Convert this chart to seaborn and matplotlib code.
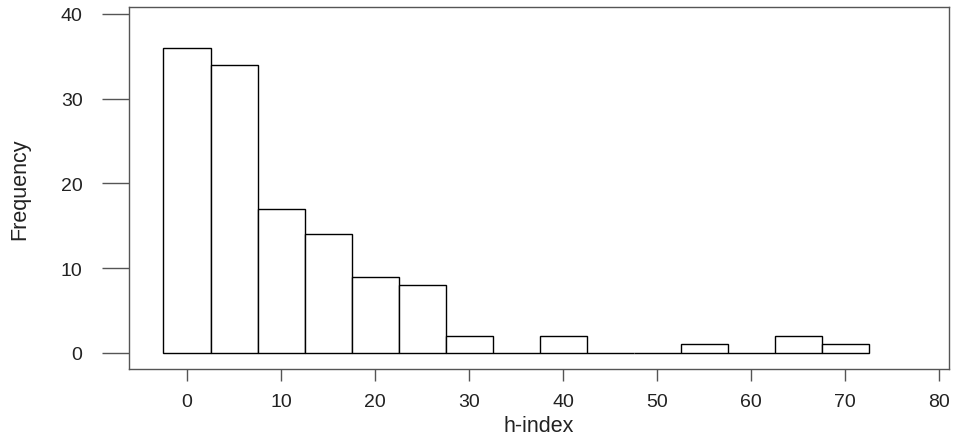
import matplotlib
matplotlib.use("Agg")
import matplotlib.pyplot as plt
import seaborn as sns
import numpy as np
import pandas as pd

# Bin centers (h-index) and counts
bin_centers = [0, 5, 10, 15, 20, 25, 30, 35, 40, 45, 50, 55, 60, 65, 70]
counts = [36, 34, 17, 14, 9, 8, 2, 0, 2, 0, 0, 1, 0, 2, 1]
bin_edges = [c - 2.5 for c in bin_centers] + [bin_centers[-1] + 2.5]
x_ticks = [0, 10, 20, 30, 40, 50, 60, 70, 80]
y_ticks = [0, 10, 20, 30, 40]

sns.set_style("white")
plt.rcParams['font.family'] = ['Liberation Sans', 'DejaVu Sans']

df = pd.DataFrame({"h": bin_centers, "n": counts})

W, H = 954, 435
fig = plt.figure(figsize=(W / 100, H / 100), dpi=100)
ax = fig.add_axes([129 / W, (H - 370) / H, (949 - 129) / W, (370 - 8) / H])

sns.histplot(data=df, x="h", weights="n", bins=bin_edges, ax=ax,
             color="white", edgecolor="black", linewidth=1.0, alpha=1.0)

ax.set_xlim(-6.17, 81.06)
ax.set_ylim(-1.89, 40.8)
ax.set_xticks(x_ticks)
ax.set_yticks(y_ticks)
ax.tick_params(axis='x', bottom=True, direction='out', length=8.6, width=1.0,
               color='#555555', labelsize=14, pad=9, labelcolor='#222222')
ax.tick_params(axis='y', left=True, direction='out', length=19.4, width=1.0,
               color='#555555', labelsize=14, pad=14, labelcolor='#222222')
for s in ax.spines.values():
    s.set_visible(True)
    s.set_color('#555555')
    s.set_linewidth(1.0)

ax.set_xlabel("h-index", fontsize=15.5, color='#222222', labelpad=3)
ax.set_ylabel("Frequency", fontsize=15.5, color='#222222', labelpad=22)

fig.savefig("out.png", dpi=100)
